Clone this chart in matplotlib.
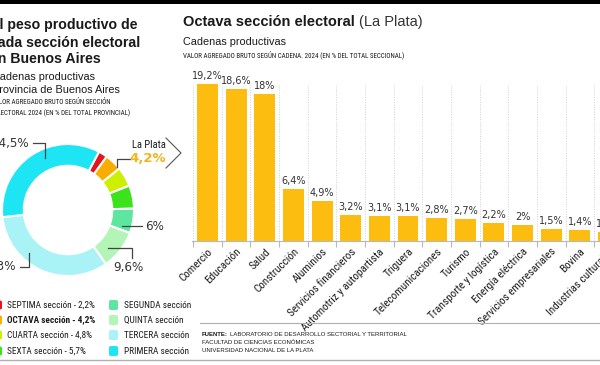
import os
import numpy as np
import matplotlib.pyplot as plt
from matplotlib import font_manager as fm
from matplotlib.patches import Rectangle, FancyBboxPatch
from matplotlib.lines import Line2D

# donut data (clockwise order, starting at the top right)
secciones = ["SEPTIMA", "OCTAVA", "CUARTA", "SEXTA", "SEGUNDA", "QUINTA", "TERCERA", "PRIMERA"]
peso = [2.2, 4.2, 4.8, 5.7, 6.0, 9.6, 33.0, 34.5]
colores = ["#e8141b", "#f9ad00", "#ccf000", "#3ce21c", "#5de6a0", "#b2f5b6", "#a9f3f6", "#1de5f3"]

# bar data
cadenas = ["Comercio", "Educación", "Salud", "Construcción", "Aluminios",
           "Servicios financieros", "Automotriz y autopartista", "Triguera",
           "Telecomunicaciones", "Turismo", "Transporte y logística",
           "Energía eléctrica", "Servicios empresariales", "Bovina",
           "Industrias culturales"]
vab = [19.2, 18.6, 18.0, 6.4, 4.9, 3.2, 3.1, 3.1, 2.8, 2.7, 2.2, 2.0, 1.5, 1.4, 1.1]

# look for a condensed face
files = [f.fname for f in fm.fontManager.ttflist]
def pick(keys):
    for k in keys:
        for f in files:
            if k in os.path.basename(f).lower():
                return f
    return None
reg = pick(["liberationsansnarrow-regular", "robotocondensed-regular", "notosans-condensed.",
            "notosans-condensedregular", "dejavusanscondensed.", "opensans-condensed",
            "notosans-semicondensed.", "notosans-semicondensedregular"])
bold = pick(["liberationsansnarrow-bold.", "robotocondensed-bold.", "notosans-condensedbold.",
             "dejavusanscondensed-bold.", "opensans-condbold", "notosans-semicondensedbold."])
if reg:
    NR = fm.FontProperties(fname=reg)
    NB = fm.FontProperties(fname=bold) if bold else fm.FontProperties(fname=reg, weight="bold")
    nscale = 1.0
else:
    NR = fm.FontProperties(family="Roboto")
    NB = fm.FontProperties(family="Roboto", weight="bold")
    nscale = 0.82

def nr(size, b=False):
    p = (NB if b else NR).copy()
    p.set_size(size * nscale)
    return p

W, H = 600, 365
fig = plt.figure(figsize=(6, 3.65), dpi=100)
rend = fig.canvas.get_renderer()

def fx(x):
    return x / W

def fy(y):
    return 1 - y / H

SANS = "Liberation Sans"
TXT = "#1a1a1a"

def line(xs, ys, color="#444444", lw=0.9):
    fig.add_artist(Line2D([fx(v) for v in xs], [fy(v) for v in ys], color=color, lw=lw))

def right_px(t):
    return t.get_window_extent(rend).x1

# frame lines
fig.add_artist(Rectangle((0, fy(4)), 1, 4 / H, color="black", lw=0))
line([0, 600], [360, 360], color="#b0b0b0", lw=1)
line([200, 600], [323, 323], color="#b0b0b0", lw=0.8)

# ---- left panel ----
for s, y in [("El peso productivo de", 25), ("cada sección electoral", 43), ("en Buenos Aires", 59)]:
    fig.text(fx(-10), fy(y), s, fontsize=10.2, fontweight="bold", family=SANS, color=TXT, va="center")
fig.text(fx(-8), fy(77), "Cadenas productivas", fontsize=7.8, family=SANS, color=TXT, va="center")
fig.text(fx(-8), fy(90), "Provincia de Buenos Aires", fontsize=7.8, family=SANS, color=TXT, va="center")
fig.text(fx(-9), fy(102), "VALOR AGREGADO BRUTO SEGÚN SECCIÓN", fontproperties=nr(5.0), color=TXT, va="center")
fig.text(fx(-6), fy(113), "ELECTORAL 2024 (EN % DEL TOTAL PROVINCIAL)", fontproperties=nr(5.0), color=TXT, va="center")

ax_d = fig.add_axes([fx(2), fy(276), 132 / W, 132 / H])
ax_d.pie(peso, colors=colores, startangle=62, counterclock=False, radius=1,
         wedgeprops=dict(width=0.33, edgecolor="white", linewidth=1.5))
ax_d.set_xlim(-1, 1)
ax_d.set_ylim(-1, 1)
ax_d.set_aspect("equal")
ax_d.axis("off")

# donut labels
LBL = dict(fontsize=8.6, family="DejaVu Sans", color="#333333", va="center")
fig.text(fx(29), fy(144), "34,5%", ha="right", **LBL)
line([33, 45, 45], [143, 143, 158])
fig.text(fx(16), fy(267), "33%", ha="right", **LBL)
line([20, 29, 29], [267, 267, 253])
fig.text(fx(145), fy(226), "6%", **LBL)
line([122, 142], [226, 226])
fig.text(fx(128), fy(267), "9,6%", ha="center", **LBL)
line([108, 132, 132], [248, 248, 258])
fig.text(fx(149), fy(145), "La Plata", fontproperties=nr(7.6), color=TXT, va="center", ha="center")
fig.text(fx(148), fy(159), "4,2%", fontsize=9.5, fontweight="bold", family="DejaVu Sans", color="#f5b31b", va="center", ha="center")
line([131, 117, 117], [159, 159, 167])
line([166, 181, 166], [138, 153, 168], color="#555555", lw=0.8)

# legend
izq = ["SEPTIMA sección - 2,2%", "OCTAVA sección - 4,2%", "CUARTA sección - 4,8%", "SEXTA sección - 5,7%"]
der = ["SEGUNDA sección", "QUINTA sección", "TERCERA sección", "PRIMERA sección"]
ys = [305, 320, 335, 351]
for i in range(4):
    fig.add_artist(FancyBboxPatch((fx(-7), fy(ys[i] + 4.5)), 9 / W, 9 / H,
                                  boxstyle="round,pad=0,rounding_size=0.004", color=colores[i], lw=0))
    fig.text(fx(7), fy(ys[i]), izq[i], fontproperties=nr(6.7, i == 1), color=TXT, va="center")
    fig.add_artist(FancyBboxPatch((fx(109), fy(ys[i] + 5)), 9 / W, 10 / H,
                                  boxstyle="round,pad=0,rounding_size=0.004", color=colores[4 + i], lw=0))
    fig.text(fx(124), fy(ys[i]), der[i], fontproperties=nr(6.7), color=TXT, va="center")

# ---- right panel ----
t = fig.text(fx(183), fy(22), "Octava sección electoral", fontsize=10.5, fontweight="bold", family=SANS, color=TXT, va="center")
fig.text(fx(right_px(t) + 4), fy(22), "(La Plata)", fontsize=10.5, family=SANS, color="#333333", va="center")
fig.text(fx(183), fy(42), "Cadenas productivas", fontsize=7.8, family=SANS, color=TXT, va="center")
fig.text(fx(183), fy(55), "VALOR AGREGADO BRUTO SEGÚN CADENA. 2024 (EN % DEL TOTAL SECCIONAL)",
         fontproperties=nr(5.0), color=TXT, va="center")

pitch = 28.64
c0 = 207.5
ax_l, ax_r = 192, 660
ax_top, base = 78, 241
ppu = 8.18
ax = fig.add_axes([fx(ax_l), fy(base), (ax_r - ax_l) / W, (base - ax_top) / H])
x = np.arange(len(vab))
ax.bar(x, vab, width=0.73, color="#fdbd10", zorder=2)
ax.set_xlim((ax_l - c0) / pitch, (ax_r - c0) / pitch)
ax.set_ylim(0, (base - ax_top) / ppu)
ax.vlines(np.arange(len(vab) + 1) - 0.5, 0, (base - 85) / ppu, colors="#d0d0d0",
          linestyles=(0, (1, 1.5)), lw=0.7, zorder=1)
for xi, v in zip(x, vab):
    lab = f"{v:g}".replace(".", ",") + "%"
    ax.annotate(lab, (xi, v), xytext=(0, 2), textcoords="offset points", ha="center", va="bottom",
                fontsize=7, family="DejaVu Sans", color="#333333")
for s in ["top", "right", "left"]:
    ax.spines[s].set_visible(False)
ax.spines["bottom"].set_color("#b8b8b8")
ax.spines["bottom"].set_linewidth(0.8)
ax.set_yticks([])
ax.set_xticks(x)
ax.set_xticklabels(cadenas, rotation=45, ha="right", rotation_mode="anchor", color=TXT)
for lab in ax.get_xticklabels():
    lab.set_fontproperties(nr(8.0))
ax.tick_params(axis="x", length=0, pad=4)
ax.set_xticks(np.arange(len(vab) + 1) - 0.5, minor=True)
ax.tick_params(axis="x", which="minor", length=4, color="#b8b8b8", width=0.8)
ax.patch.set_alpha(0)

# footer
f = fig.text(fx(202), fy(335), "FUENTE:", fontsize=4.3, fontweight="bold", family=SANS, color=TXT, va="center")
fig.text(fx(right_px(f) + 2), fy(335), "LABORATORIO DE DESARROLLO SECTORIAL Y TERRITORIAL", fontsize=4.3, family=SANS, color=TXT, va="center")
fig.text(fx(202), fy(343), "FACULTAD DE CIENCIAS ECONÓMICAS", fontsize=4.3, family=SANS, color=TXT, va="center")
fig.text(fx(202), fy(351), "UNIVERSIDAD NACIONAL DE LA PLATA", fontsize=4.3, family=SANS, color=TXT, va="center")

fig.savefig("out.png", dpi=100)
